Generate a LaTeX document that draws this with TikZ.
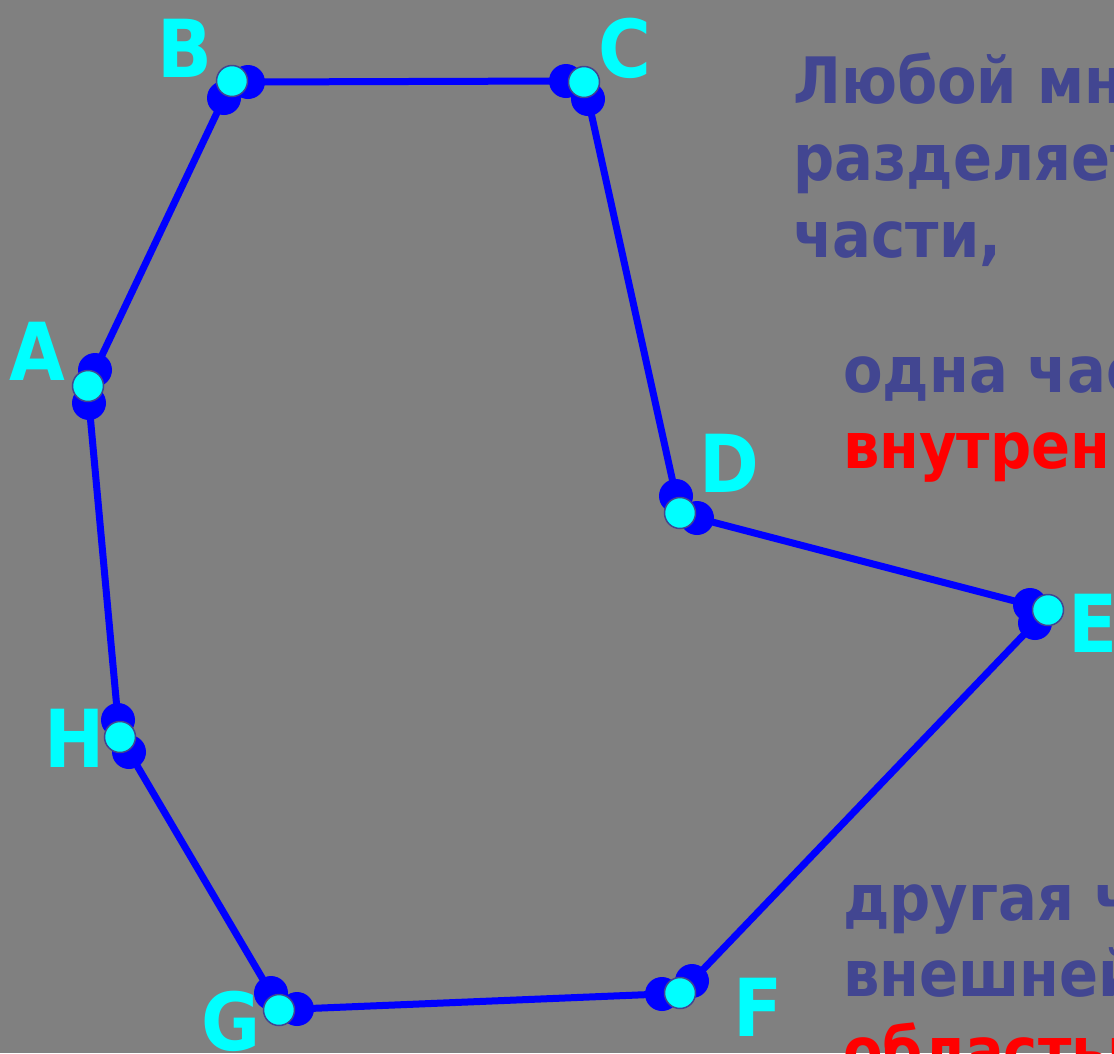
\documentclass[tikz,border=0pt]{standalone}
\usepackage{fontspec}
\setmainfont{DejaVu Sans Condensed}
\usetikzlibrary{positioning}
\definecolor{bggray}{RGB}{128,128,128}
\definecolor{inkblue}{RGB}{66,70,145}
\definecolor{dotcyan}{RGB}{0,255,255}
\definecolor{lineblue}{RGB}{0,0,255}
\definecolor{hotred}{RGB}{255,0,0}

\begin{document}
\begin{tikzpicture}[x=1pt,y=-1pt,
    side/.style={lineblue,line width=7pt},
    enddot/.style={circle,fill=lineblue,inner sep=0pt,minimum size=34pt},
    vertex/.style={circle,fill=dotcyan,draw=inkblue,line width=1.5pt,inner sep=0pt,minimum size=31pt},
    vlabel/.style={anchor=base west,inner sep=0pt,text=dotcyan,font=\fontsize{80}{80}\selectfont\bfseries},
    phrase/.style={anchor=base west,inner sep=0pt,text=inkblue,font=\fontsize{64}{64}\selectfont\bfseries}]

    \useasboundingbox (0,0) rectangle (1114,1053);
    \clip (0,0) rectangle (1114,1053);
    \fill[bggray] (0,0) rectangle (1114,1053);

    % ends of the sides
    \node[enddot] (ab1) at (95,370) {};
    \node[enddot] (ab2) at (224,98) {};
    \node[enddot] (bc1) at (248,82) {};
    \node[enddot] (bc2) at (566,81) {};
    \node[enddot] (cd1) at (588,99) {};
    \node[enddot] (cd2) at (676,496) {};
    \node[enddot] (de1) at (697,518) {};
    \node[enddot] (de2) at (1030,605) {};
    \node[enddot] (ef1) at (1035,623) {};
    \node[enddot] (ef2) at (692,981) {};
    \node[enddot] (fg1) at (662,994) {};
    \node[enddot] (fg2) at (297,1009) {};
    \node[enddot] (gh1) at (271,993) {};
    \node[enddot] (gh2) at (129,752) {};
    \node[enddot] (ha1) at (118,720) {};
    \node[enddot] (ha2) at (89,403) {};

    \foreach \s/\t in {ab1/ab2,bc1/bc2,cd1/cd2,de1/de2,ef1/ef2,fg1/fg2,gh1/gh2,ha1/ha2}
        \draw[side] (\s.center) -- (\t.center);

    % vertices
    \node[vertex] (A) at (88,386) {};
    \node[vertex] (B) at (232,81) {};
    \node[vertex] (C) at (584,82) {};
    \node[vertex] (D) at (680,513) {};
    \node[vertex] (E) at (1048,610) {};
    \node[vertex] (F) at (680,993) {};
    \node[vertex] (G) at (279,1010) {};
    \node[vertex] (H) at (120,737) {};

    \node[vlabel] (labA) at (9,380) {A};
    \node[vlabel] (labB) at (157,77) {B};
    \node[vlabel] (labC) at (598,77) {C};
    \node[vlabel] (labD) at (699,492) {D};
    \node[vlabel] (labE) at (1068,652) {E};
    \node[vlabel] (labF) at (733,1036) {F};
    \node[vlabel] (labG) at (201,1050) {G};
    \node[vlabel] (labH) at (44,767) {H};

    % text
    \node[phrase] (t1) at (793,103) {Любой многоугольник};
    \node[phrase] (t2) at (793,180) {разделяет};
    \node[phrase] (t3) at (793,257) {части,};
    \node[phrase] (t4) at (843,392) {одна часть};
    \node[phrase,text=hotred] (t5) at (843,468) {внутренней};
    \node[phrase] (t6) at (843,920) {другая часть};
    \node[phrase] (t7) at (843,996) {внешней};
    \node[phrase,text=hotred] (t8) at (843,1073) {областью};
\end{tikzpicture}
\end{document}
